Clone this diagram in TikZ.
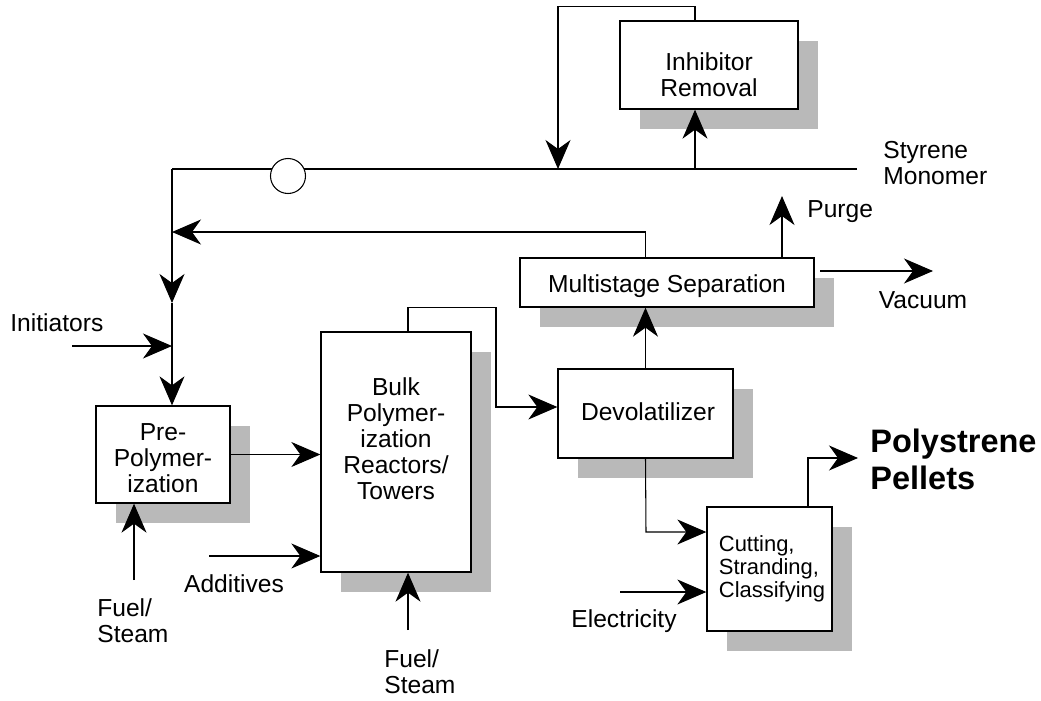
\documentclass[tikz,border=0pt]{standalone}
\usepackage{fontspec}
\setmainfont{Liberation Sans}
\usetikzlibrary{arrows.meta,shadows,positioning}

\newdimen\dpx
\dpx=0.02cm

\tikzset{
  flowbox/.style={draw, line width=0.75pt, fill=white, inner sep=0pt,
    general shadow={fill=gray!55, shadow xshift=0.4cm, shadow yshift=-0.4cm}},
  flowtext/.style={font=\fontsize{14}{14.8}\selectfont, align=center, inner sep=0pt},
  smalltext/.style={font=\fontsize{12.5}{13.2}\selectfont, align=left, inner sep=0pt},
  bigtext/.style={font=\fontsize{18.5}{21}\selectfont\bfseries, align=left, inner sep=0pt},
  flowline/.style={line width=0.6pt},
  flowarrow/.style={flowline, -{Stealth[length=0.58cm, width=0.5cm, inset=0.18cm]}},
}

\begin{document}
\begin{tikzpicture}[x=0.02cm, y=-0.02cm]
  \useasboundingbox (0,0) rectangle (1041,700);

  % units
  \node[flowbox, minimum width=178\dpx, minimum height=88\dpx] (inhib) at (709,65) {};
  \node[flowbox, minimum width=134\dpx, minimum height=97\dpx] (prepoly) at (163,454.5) {};
  \node[flowbox, minimum width=150\dpx, minimum height=240\dpx] (bulk) at (396,452) {};
  \node[flowbox, minimum width=175\dpx, minimum height=89\dpx] (devol) at (645.5,413.5) {};
  \node[flowbox, minimum width=294\dpx, minimum height=49\dpx] (multi) at (667,282.5) {};
  \node[flowbox, minimum width=125\dpx, minimum height=124\dpx] (cutting) at (769.5,569) {};

  % unit texts
  \node[flowtext] (inhibtext) at (709,75) {Inhibitor\\Removal};
  \node[flowtext] (prepolytext) at (163,458) {Pre-\\Polymer-\\ization};
  \node[flowtext] (bulktext) at (396,439) {Bulk\\Polymer-\\ization\\Reactors/\\Towers};
  \node[flowtext] (devoltext) at (648,412) {Devolatilizer};
  \node[flowtext] (multitext) at (667,286) {Multistage Separation};
  \node[smalltext] (cuttingtext) at (772,569) {Cutting,\\Stranding,\\Classifying};

  % stream labels
  \node[flowtext, anchor=west, align=left] (styrene) at (883,163) {Styrene\\Monomer};
  \node[flowtext, anchor=west] (purge) at (807,212) {Purge};
  \node[flowtext] (vacuum) at (923,300) {Vacuum};
  \node[flowtext, anchor=west] (initiators) at (10,323) {Initiators};
  \node[flowtext] (additives) at (234,584) {Additives};
  \node[flowtext, anchor=west, align=left] (fuela) at (97,621) {Fuel/\\Steam};
  \node[flowtext, anchor=west, align=left] (fuelb) at (384,672) {Fuel/\\Steam};
  \node[flowtext] (electricity) at (624,621) {Electricity};
  \node[bigtext, anchor=west] (pellets) at (870,459) {Polystrene\\Pellets};

  % junctions and free ends
  \coordinate (styin) at (857,169);
  \coordinate (jleft) at (172,169);
  \coordinate (jmix) at (558,169);
  \coordinate (jinh) at (695,169);
  \coordinate (jrec) at (172,232);
  \coordinate (jdown) at (172,303);
  \coordinate (jinit) at (172,346);
  \coordinate (initsrc) at (72,346);
  \coordinate (addsrc) at (209,556);
  \coordinate (fuelasrc) at (134,580);
  \coordinate (fuelbsrc) at (408,630);
  \coordinate (jbd) at (496,407);
  \coordinate (purgetip) at (782,196);
  \coordinate (vacfrom) at (820,271);
  \coordinate (vactip) at (933,271);
  \coordinate (jdc) at (646,532);
  \coordinate (elecsrc) at (620,592);
  \coordinate (jpel) at (808,458);
  \coordinate (pelltip) at (858,458);

  % styrene feed and inhibitor loop
  \draw[flowline] (styin) -- (jleft);
  \draw[flowarrow] (jinh) -- (inhib.south -| jinh);
  \draw[flowarrow] (inhib.north -| jinh) -- ++(0,-14) -| (jmix);
  \node[circle, draw, line width=0.6pt, fill=white, inner sep=0pt, minimum size=35\dpx] (valve) at (288,176) {};

  % feed to pre-polymerization
  \draw[flowarrow] (jleft) -- (jdown);
  \draw[flowline] (jdown) -- (jinit);
  \draw[flowarrow] (jinit) -- (jinit |- prepoly.north);
  \draw[flowarrow] (initsrc) -- (jinit);
  \draw[flowarrow] (fuelasrc) -- (fuelasrc |- prepoly.south);

  % polymerization train
  \draw[flowarrow] (prepoly.east) -- (prepoly.east -| bulk.west);
  \draw[flowarrow] (addsrc) -- (addsrc -| bulk.west);
  \draw[flowarrow] (fuelbsrc) -- (fuelbsrc |- bulk.south);
  \draw[flowarrow] (bulk.north -| fuelbsrc) -- ++(0,-24) -| (jbd) -- (jbd -| devol.west);

  % separation and recycle
  \draw[flowarrow] (devol.north) -- (devol.north |- multi.south);
  \draw[flowarrow] (multi.north -| devol.north) |- (jrec);
  \draw[flowarrow] (multi.north -| purgetip) -- (purgetip);
  \draw[flowarrow] (vacfrom) -- (vactip);

  % finishing
  \draw[flowarrow] (devol.south) -- (jdc) -- (jdc -| cutting.west);
  \draw[flowarrow] (elecsrc) -- (elecsrc -| cutting.west);
  \draw[flowarrow] (cutting.north -| jpel) -- (jpel) -- (pelltip);
\end{tikzpicture}
\end{document}
